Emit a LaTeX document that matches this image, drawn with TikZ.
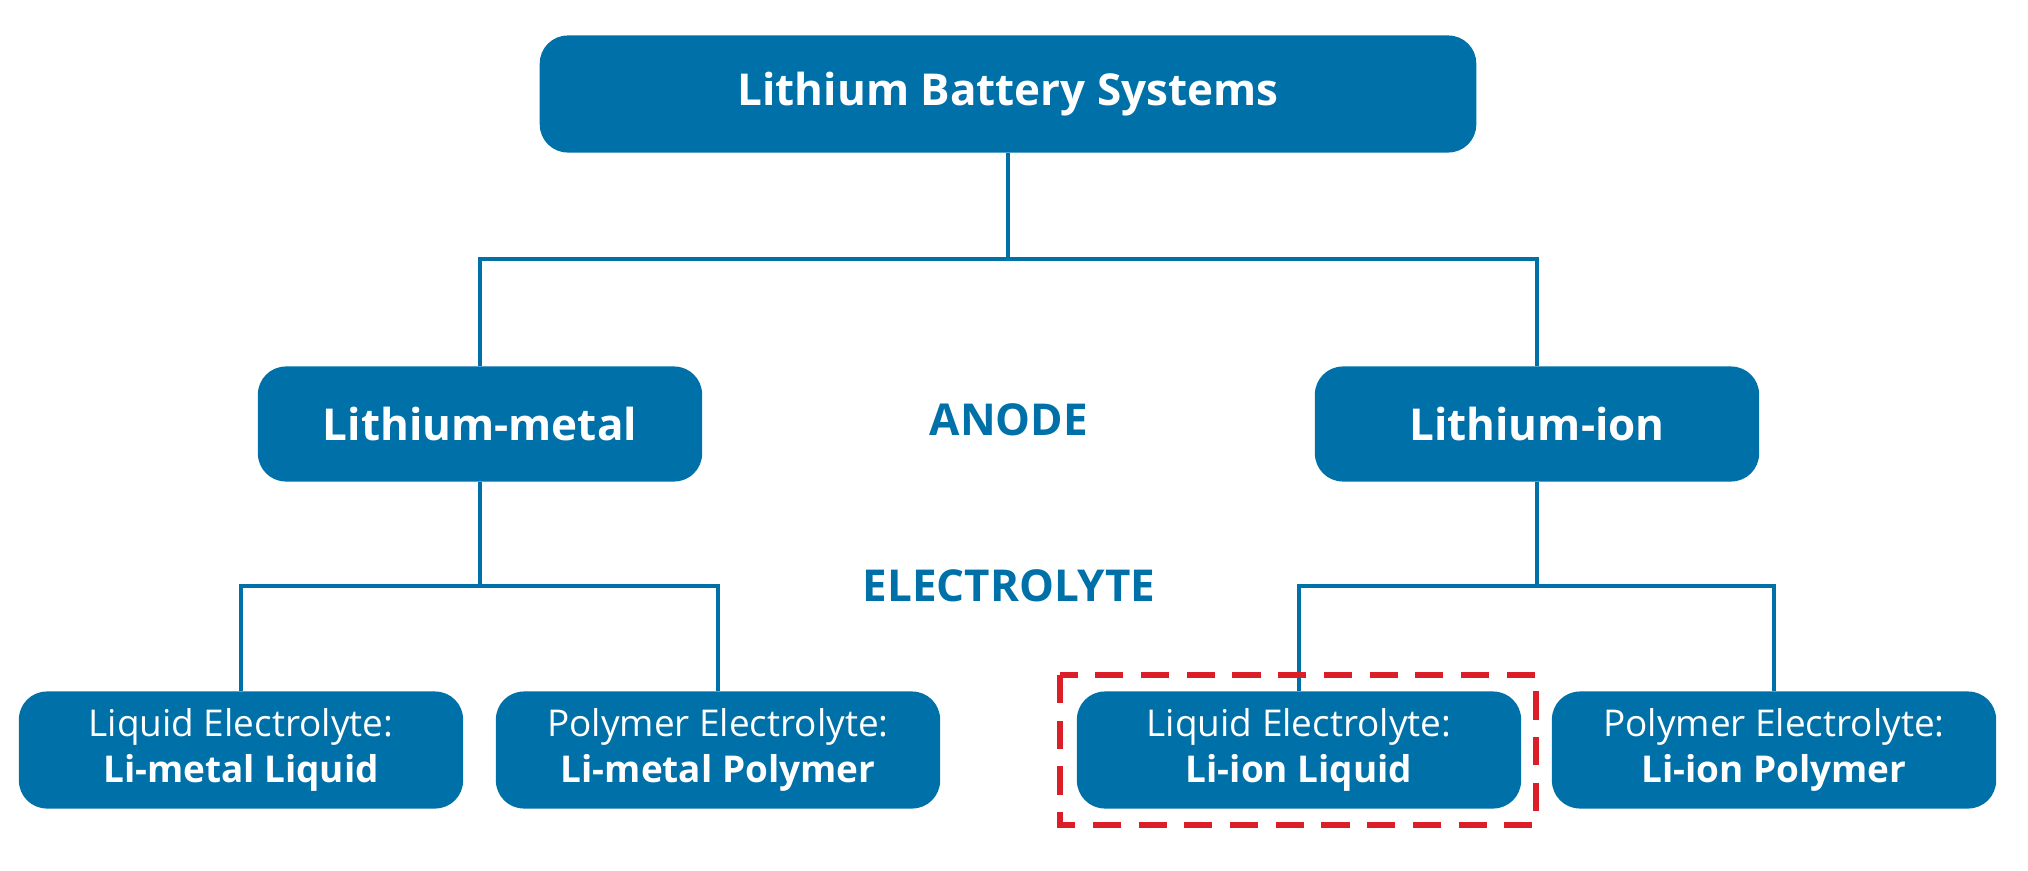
\documentclass[tikz,border=0pt]{standalone}
\usepackage{fontspec}
\setmainfont{Open Sans}
\usetikzlibrary{positioning, calc}
\definecolor{batteryblue}{RGB}{0, 112, 168}
\definecolor{markred}{RGB}{220, 30, 40}

\begin{document}
\begin{tikzpicture}[
        x=0.01cm, y=-0.01cm,
        box/.style={rectangle, rounded corners=0.28cm, fill=batteryblue, text=white, align=center, inner sep=0pt},
        topbox/.style={box, minimum width=9.36cm, minimum height=1.17cm, font=\bfseries\fontsize{12.5}{15}\selectfont},
        midbox/.style={box, minimum width=4.44cm, minimum height=1.15cm, font=\bfseries\fontsize{12.5}{15}\selectfont},
        leafbox/.style={box, minimum width=4.44cm, minimum height=1.17cm, font=\fontsize{10.5}{13}\selectfont},
        level/.style={text=batteryblue, font=\bfseries\fontsize{12.5}{15}\selectfont},
        link/.style={draw=batteryblue, line width=1.3pt}
    ]
        \useasboundingbox (0,0) rectangle (2028,870);

        % Root
        \node[topbox] (root) at (1008,94) {Lithium Battery Systems};

        % Anode types
        \node[midbox] (metal) at (480,424) {Lithium-metal};
        \node[midbox] (ion) at (1537,424) {Lithium-ion};
        \node[level] (anode) at (1009,420) {ANODE};

        % Electrolyte types
        \node[level] (electrolyte) at (1009,586) {ELECTROLYTE};
        \node[leafbox] (metalliq) at (241,750) {Liquid Electrolyte:\\\textbf{Li-metal Liquid}};
        \node[leafbox] (metalpoly) at (718,750) {Polymer Electrolyte:\\\textbf{Li-metal Polymer}};
        \node[leafbox] (ionliq) at (1299,750) {Liquid Electrolyte:\\\textbf{Li-ion Liquid}};
        \node[leafbox] (ionpoly) at (1774,750) {Polymer Electrolyte:\\\textbf{Li-ion Polymer}};

        % Branch points
        \coordinate (j1) at (1008,259);
        \coordinate (j2) at (480,586);
        \coordinate (j3) at (1537,586);

        % Connectors
        \draw[link] (root.south) -- (j1);
        \draw[link] (metal.north) |- (j1) -| (ion.north);
        \draw[link] (metal.south) -- (j2);
        \draw[link] (metalliq.north) |- (j2) -| (metalpoly.north);
        \draw[link] (ion.south) -- (j3);
        \draw[link] (ionliq.north) |- (j3) -| (ionpoly.north);

        % Highlight
        \draw[markred, line width=1.5pt, dash pattern=on 8pt off 5pt] (1060,675) rectangle (1536,825);
    \end{tikzpicture}
\end{document}
